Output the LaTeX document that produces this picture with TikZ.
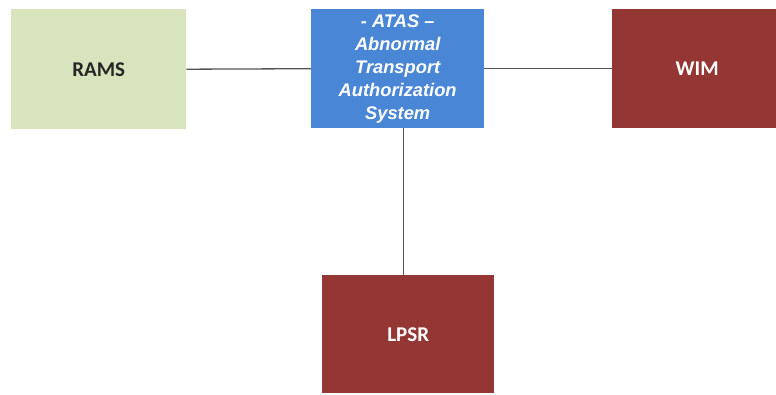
\documentclass[tikz,border=0pt]{standalone}
\usepackage{fontspec}
\setmainfont{Carlito}
\newfontfamily\atasfont{Liberation Sans}
\definecolor{ramsgreen}{HTML}{D7E4BD}
\definecolor{atasblue}{HTML}{4A86D6}
\definecolor{sysred}{HTML}{943634}
\definecolor{linkgray}{HTML}{555555}
\begin{document}
\begin{tikzpicture}[x=1pt,y=-1pt,
  sysbox/.style={rectangle, draw=none, inner sep=0pt, anchor=north west,
    font=\fontsize{21}{23}\selectfont\bfseries, align=center},
  link/.style={draw=linkgray, line width=1.3pt}]
\useasboundingbox[fill=white] (0,0) rectangle (776,394);
\begin{scope}
\clip (0,0) rectangle (776,394);
\node[sysbox, fill=ramsgreen, text=black!85, minimum width=175pt, minimum height=120pt] (rams) at (11,9) {RAMS};
\node[sysbox, fill=atasblue, text=white, minimum width=173pt, minimum height=119pt,
  font=\atasfont\fontsize{18.3}{23}\selectfont\bfseries\itshape] (atas) at (311,9)
  {- ATAS –\\Abnormal\\Transport\\Authorization\\System};
\node[sysbox, fill=sysred, text=white, minimum width=170pt, minimum height=119pt] (wim) at (612,9) {WIM};
\node[sysbox, fill=sysred, text=white, minimum width=172pt, minimum height=118pt] (lpsr) at (322,275) {LPSR};
\end{scope}
\draw[link] (rams.east) -- (atas.west);
\draw[link] (atas.east) -- (wim.west);
\draw[link] ([xshift=5.5pt]atas.south) -- ([xshift=-5pt]lpsr.north);
\end{tikzpicture}
\end{document}
